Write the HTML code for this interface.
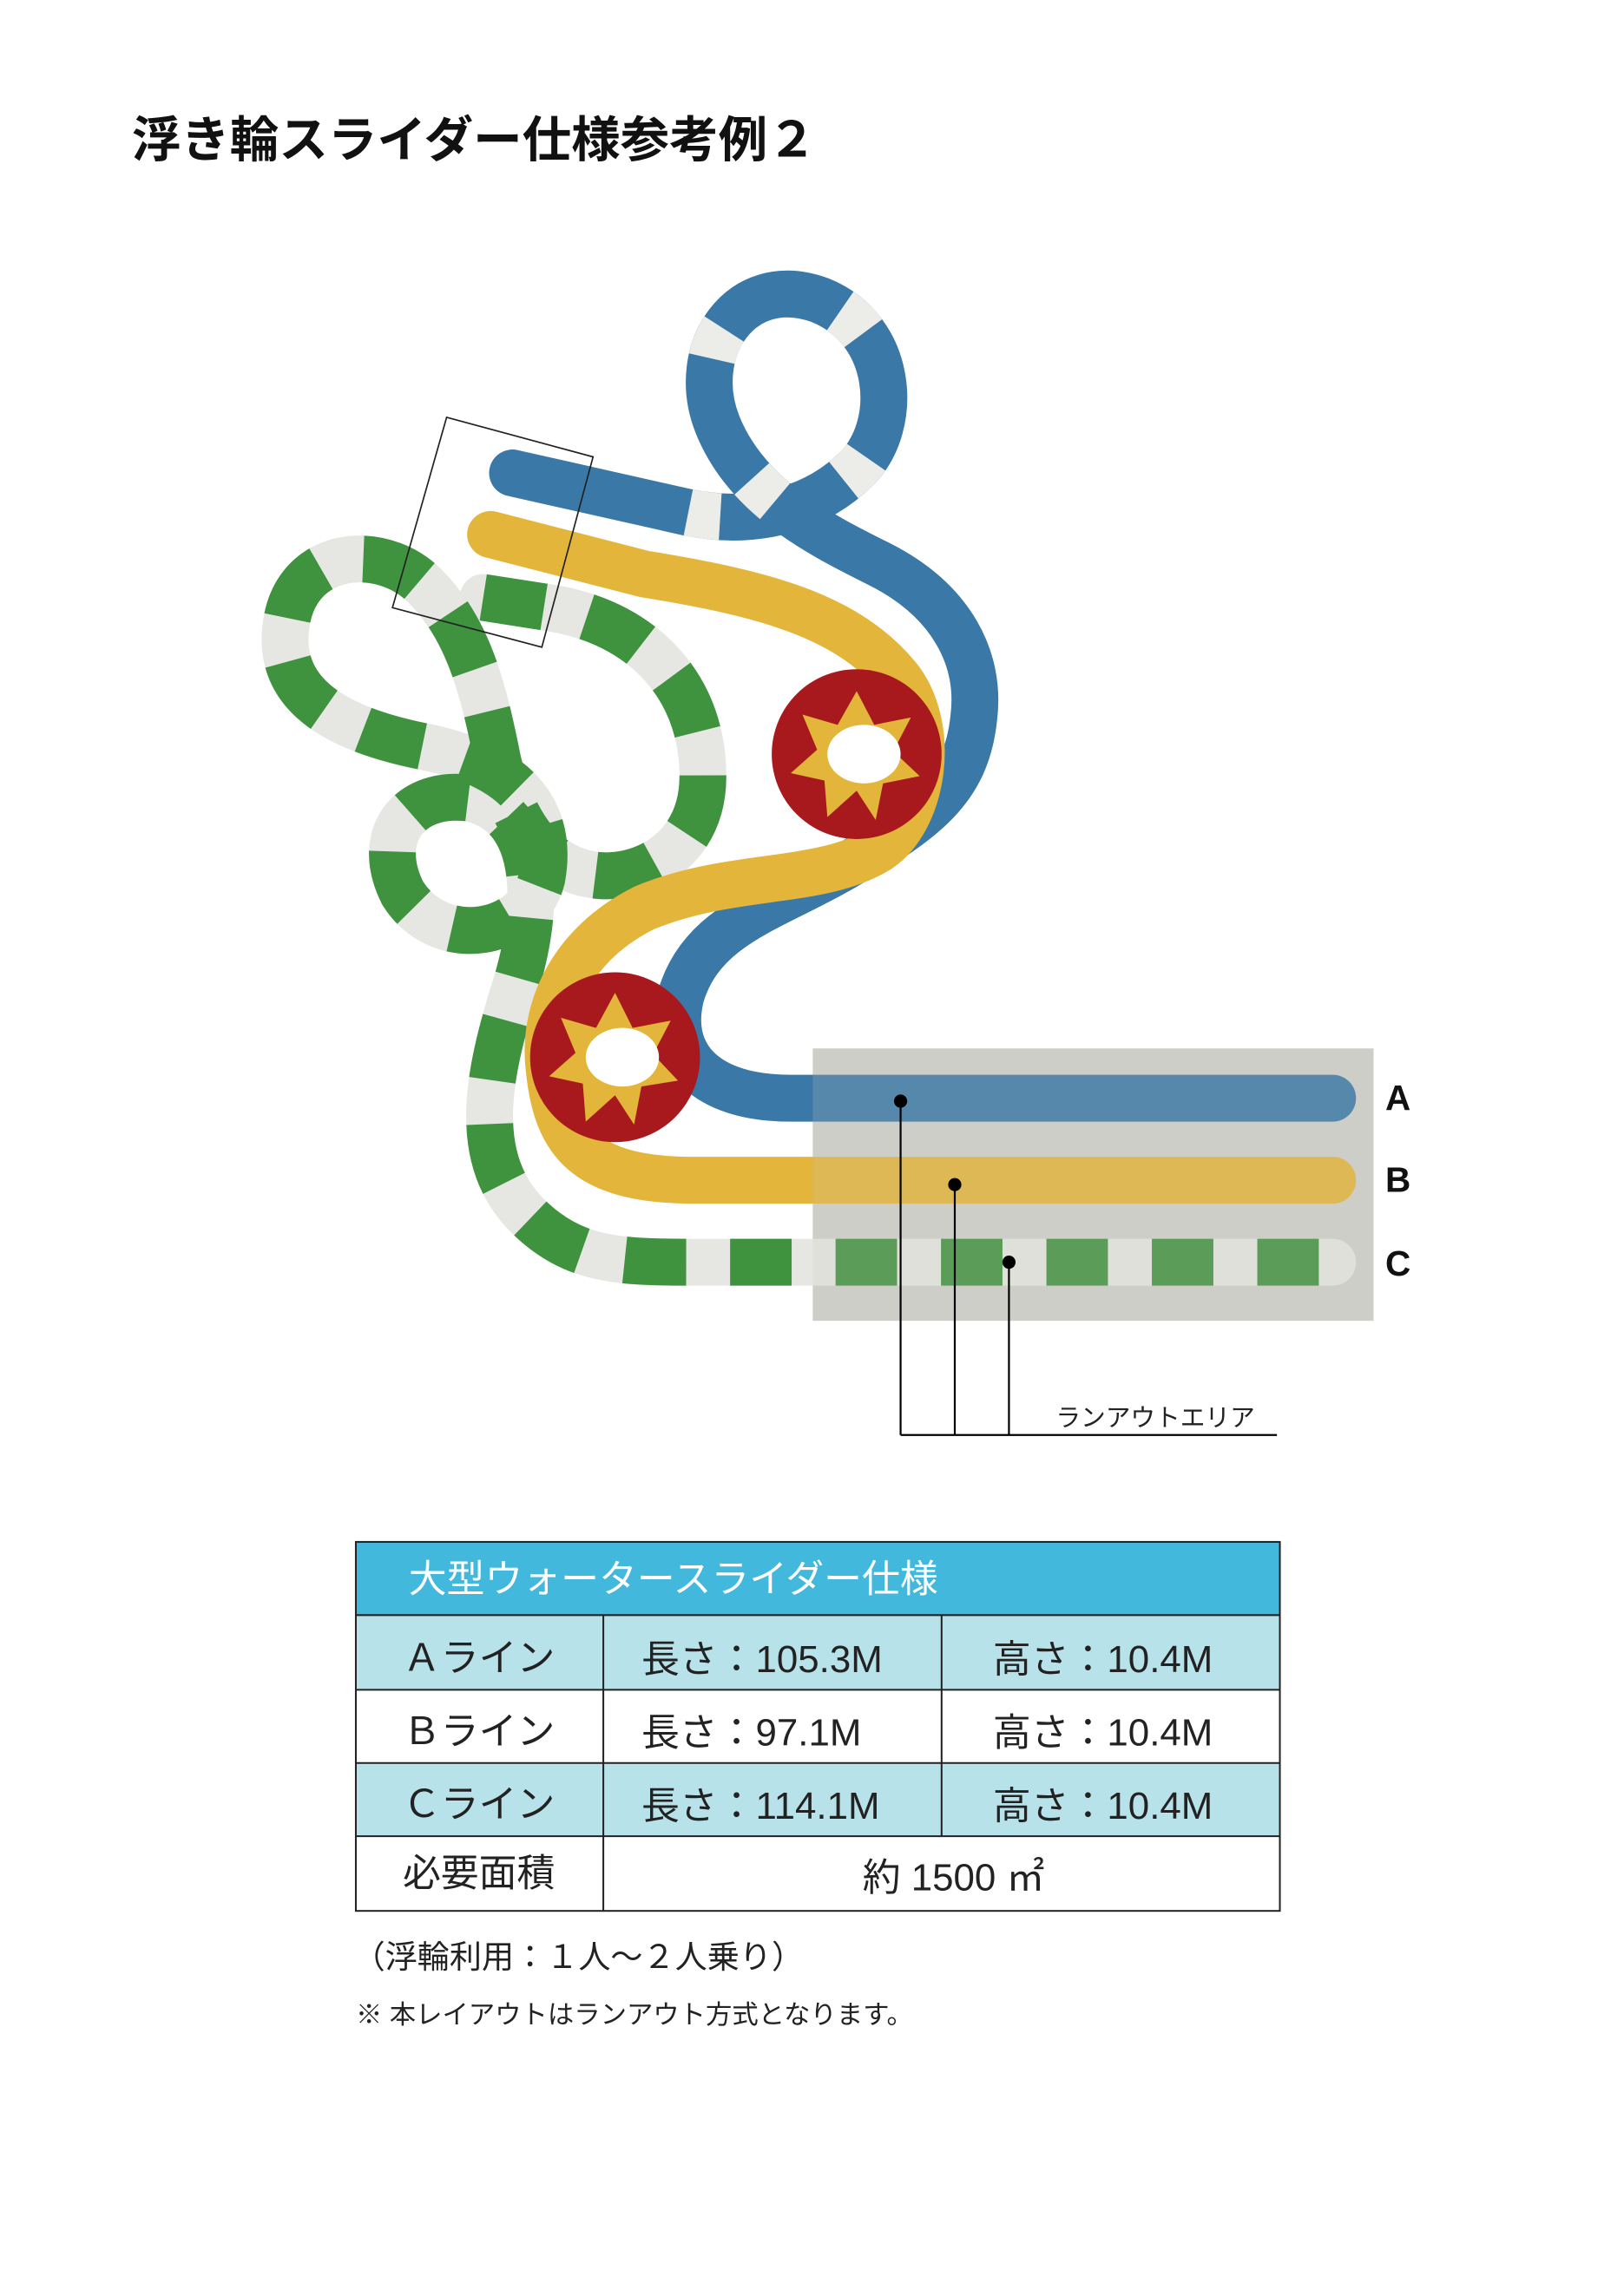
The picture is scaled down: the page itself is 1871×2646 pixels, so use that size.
<!DOCTYPE html>
<html><head><meta charset="utf-8"><style>
html,body{margin:0;padding:0;background:#fff}
svg{display:block}
text{font-family:"Liberation Sans","Noto Sans CJK JP",sans-serif}
</style></head><body>
<svg width="1871" height="2646" viewBox="0 0 1109 1568" preserveAspectRatio="none" xmlns="http://www.w3.org/2000/svg">
<text x="90" y="107" font-size="33.5" font-weight="bold" fill="#111">浮き輪スライダー仕様参考例２</text>

<rect x="555" y="716" width="383" height="186" fill="#d0d0cb"/>

<g fill="none" stroke-linecap="round" stroke-linejoin="round">
<path d="M330,408 L375,415 C440,425 480,470 480,530 C480,580 440,600 410,598 C370,595 350,560 340,520 C330,470 320,430 290,400 C260,370 200,375 195,430 C190,480 240,500 290,510 C340,520 380,545 370,600 C360,640 300,650 275,610 C255,570 280,540 320,545 C370,555 370,620 350,680 C335,730 320,790 360,830 C390,860 420,862 470,862 L910,862" stroke="#e6e6e2" stroke-width="32"/>
<path d="M330,408 L375,415 C440,425 480,470 480,530 C480,580 440,600 410,598 C370,595 350,560 340,520 C330,470 320,430 290,400 C260,370 200,375 195,430 C190,480 240,500 290,510 C340,520 380,545 370,600 C360,640 300,650 275,610 C255,570 280,540 320,545 C370,555 370,620 350,680 C335,730 320,790 360,830 C390,860 420,862 470,862 L910,862" stroke="#3f923e" stroke-width="32" stroke-dasharray="42 30" stroke-linecap="butt"/>
<path d="M350,323 L470,350 C520,360 560,345 585,320 C615,290 610,225 560,205 C505,185 470,240 490,290 C510,340 560,365 600,385 C650,410 670,450 665,490 C660,540 630,560 580,590 C530,620 480,630 465,680 C455,720 480,750 540,750 L910,750" stroke="#3a78a7" stroke-width="32"/>
<path d="M470,350 C520,360 560,345 585,320 C615,290 610,225 560,205 C505,185 470,240 490,290 C510,340 560,365 600,385" stroke="#ecece8" stroke-width="32" stroke-dasharray="22 90" stroke-linecap="butt"/>
<path d="M335,365 L440,392 C520,405 580,420 615,465 C640,500 630,560 600,580 C560,605 500,595 440,620 C390,645 370,690 375,730 C380,780 400,805 470,806 L910,806" stroke="#e3b53a" stroke-width="32"/>
</g>
<g>
<circle cx="585" cy="515" r="58" fill="#a8191d"/>
<polygon points="585,472 597,495 622,490 610,513 628,530 603,535 598,560 585,540 565,558 563,533 540,528 558,512 548,488 572,495" fill="#e3b53a"/>
<ellipse cx="590" cy="515" rx="25" ry="20" fill="#fff"/>
<circle cx="420" cy="722" r="58" fill="#a8191d"/>
<polygon points="420,678 432,702 458,697 446,720 463,738 438,742 433,768 420,748 400,766 398,740 375,735 393,719 383,695 407,702" fill="#e3b53a"/>
<ellipse cx="425" cy="722" rx="25" ry="20" fill="#fff"/>
</g>
<polygon points="305,285 405,312 370,442 268,415" fill="none" stroke="#222" stroke-width="1"/>

<rect x="555" y="716" width="383" height="186" fill="#c8c8c3" opacity="0.2"/>

<text x="946" y="758" font-size="24" font-weight="bold" fill="#111">A</text>
<text x="946" y="814" font-size="24" font-weight="bold" fill="#111">B</text>
<text x="946" y="871" font-size="24" font-weight="bold" fill="#111">C</text>

<g stroke="#000" stroke-width="1.3" fill="none">
<path d="M615,752 V980 M652,809 V980 M689,862 V980 M615,980 H872"/>
</g>
<circle cx="615" cy="752" r="4.5" fill="#000"/>
<circle cx="652" cy="809" r="4.5" fill="#000"/>
<circle cx="689" cy="862" r="4.5" fill="#000"/>
<text x="721" y="974" font-size="17" fill="#222">ランアウトエリア</text>

<rect x="243" y="1053" width="631" height="50" fill="#43b8dd"/>
<rect x="243" y="1103" width="631" height="51" fill="#b8e2ea"/>
<rect x="243" y="1204" width="631" height="50" fill="#b8e2ea"/>
<g stroke="#222" stroke-width="1.2" fill="none">
<rect x="243" y="1053" width="631" height="252"/>
<path d="M243,1103 H874 M243,1154 H874 M243,1204 H874 M243,1254 H874 M412,1103 V1305 M643,1103 V1254"/>
</g>
<g font-size="26" fill="#222">
<text x="279" y="1087" fill="#fff">大型ウォータースライダー仕様</text>
<text x="275" y="1141">Ａライン</text>
<text x="275" y="1191">Ｂライン</text>
<text x="275" y="1241">Ｃライン</text>
<text x="275" y="1288">必要面積</text>
<text x="438" y="1142">長さ：105.3M</text>
<text x="438" y="1192">長さ：97.1M</text>
<text x="438" y="1242">長さ：114.1M</text>
<text x="678" y="1142">高さ：10.4M</text>
<text x="678" y="1192">高さ：10.4M</text>
<text x="678" y="1242">高さ：10.4M</text>
<text x="589" y="1291">約 1500 ㎡</text>
</g>
<text x="241" y="1344" font-size="22" fill="#222">（浮輪利用：１人～２人乗り）</text>
<text x="243" y="1382" font-size="18" fill="#222">※ 本レイアウトはランアウト方式となります。</text>
</svg>
</body></html>
